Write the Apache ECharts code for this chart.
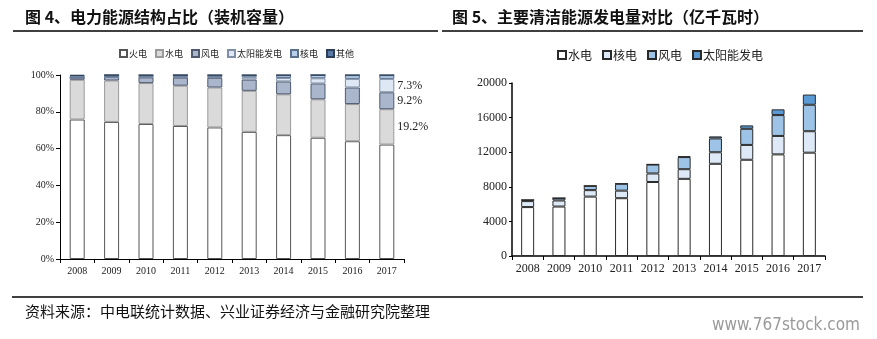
<!DOCTYPE html>
<html><head><meta charset="utf-8">
<script src="https://cdn.jsdelivr.net/npm/echarts@6/dist/echarts.min.js"></script>
<style>
html,body{margin:0;padding:0;background:#fff;}
#wrap{position:relative;width:877px;height:339px;}
#a{position:absolute;left:0;top:0;width:877px;height:339px;}
#b{position:absolute;left:440px;top:0;width:437px;height:339px;}
</style></head>
<body><div id="wrap"><div id="a"></div><div id="b"></div></div>
<script>
// ---- Figure 4: installed capacity share (%) ----
const years = ['2008','2009','2010','2011','2012','2013','2014','2015','2016','2017'];
const capThermal = [75.8, 74.5, 73.4, 72.3, 71.5, 69.1, 67.3, 65.9, 64.0, 62.2];
const capHydro   = [21.6, 22.5, 22.2, 21.9, 21.7, 22.3, 22.2, 20.9, 20.2, 19.2];
const capWind    = [1.1, 2.0, 3.1, 4.4, 5.3, 6.1, 7.0, 8.6, 9.0, 9.2];
const capSolar   = [0.0, 0.0, 0.1, 0.2, 0.3, 1.2, 1.9, 2.8, 4.7, 7.3];
const capNuclear = [1.1, 1.0, 1.1, 1.2, 1.1, 1.2, 1.5, 1.8, 2.0, 2.0];
const capOther   = [0.4, 0.0, 0.1, 0.0, 0.1, 0.1, 0.1, 0.0, 0.1, 0.1];
const pctTicks = [0, 20, 40, 60, 80, 100];

// ---- Figure 5: clean energy generation (100 million kWh) ----
const genHydro   = [5655, 5717, 6867, 6681, 8556, 8921, 10661, 11127, 11748, 11945];
const genNuclear = [692, 701, 747, 874, 983, 1115, 1332, 1714, 2132, 2481];
const genWind    = [131, 276, 494, 800, 1030, 1401, 1598, 1863, 2410, 3057];
const genSolar   = [0, 0, 1, 6, 36, 84, 235, 395, 665, 1182];
const genTicks = [0, 4000, 8000, 12000, 16000, 20000];

const serif = '"Times New Roman","Liberation Serif",serif';
const cjk = '"Noto Sans CJK SC",sans-serif';

function withLastLabel(arr){
  return arr.map((v,i)=> i===arr.length-1 ? {value:v, label:{show:true}} : v);
}
function capSeries(name, data, color, border, labelled){
  return {
    name, type:'bar', stack:'cap', data: labelled ? withLastLabel(data) : data,
    barWidth:15,
    itemStyle:{color, borderColor:border, borderWidth:1},
    label:{show:false, position:'right', distance:3, formatter:'{c}%', color:'#222', fontFamily:serif, fontSize:12},
    emphasis:{disabled:true}
  };
}

const chartA = echarts.init(document.getElementById('a'), null, {renderer:'canvas'});
chartA.setOption({
  animation:false,
  backgroundColor:'#fff',
  title:[
    {text:'图 4、电力能源结构占比（装机容量）', left:20, top:4, textStyle:{fontFamily:cjk, fontWeight:'bold', fontSize:16, color:'#111'}},
    {text:'图 5、主要清洁能源发电量对比（亿千瓦时）', left:447, top:4, textStyle:{fontFamily:cjk, fontWeight:'bold', fontSize:16, color:'#111'}},
    {text:'资料来源：中电联统计数据、兴业证券经济与金融研究院整理', left:20, top:299, textStyle:{fontFamily:cjk, fontWeight:'normal', fontSize:15, color:'#111'}},
    {text:'www.767stock.com', right:12, top:312, textStyle:{fontFamily:'"Liberation Sans Narrow","DejaVu Sans Condensed",sans-serif', fontWeight:'normal', fontSize:17, color:'#9a9a9a'}}
  ],
  graphic:[
    {type:'line', shape:{x1:13, y1:31, x2:438, y2:31}, style:{stroke:'#000', lineWidth:1.5}},
    {type:'line', shape:{x1:442, y1:31, x2:863, y2:31}, style:{stroke:'#000', lineWidth:1.5}},
    {type:'line', shape:{x1:12, y1:297, x2:863, y2:297}, style:{stroke:'#000', lineWidth:1.5}}
  ],
  legend:{
    left:114, top:44, itemWidth:7, itemHeight:7, itemGap:8, icon:'rect',
    textStyle:{fontFamily:cjk, fontSize:9, color:'#222', padding:[0,0,0,-3]},
    data:['火电','水电','风电','太阳能发电','核电','其他']
  },
  grid:{left:60, right:473, top:75, bottom:80},
  xAxis:{
    type:'category', data:years,
    axisLine:{lineStyle:{color:'#000', width:1}},
    axisTick:{show:true, length:4, lineStyle:{color:'#000'}},
    axisLabel:{fontFamily:serif, fontSize:10, color:'#222', margin:7}
  },
  yAxis:{
    type:'value', min:pctTicks[0], max:pctTicks[pctTicks.length-1], interval:20,
    axisLine:{show:true, lineStyle:{color:'#000', width:1}},
    axisTick:{show:true, length:4, lineStyle:{color:'#000'}},
    splitLine:{show:false},
    axisLabel:{fontFamily:serif, fontSize:10, color:'#222', formatter:'{value}%', margin:6}
  },
  series:[
    capSeries('火电', capThermal, '#ffffff', '#555', false),
    capSeries('水电', capHydro, '#dadada', '#9a9a9a', true),
    capSeries('风电', capWind, '#a9b6cc', '#4f5a6e', true),
    capSeries('太阳能发电', capSolar, '#dde8f4', '#7f8fa6', true),
    capSeries('核电', capNuclear, '#b8cfe9', '#5a6f8c', false),
    capSeries('其他', capOther, '#5a7aa6', '#2d3e58', false)
  ]
});

function genSeries(name, data, color){
  return {
    name, type:'bar', stack:'gen', data, barWidth:13,
    itemStyle:{color, borderColor:'#2a2a2a', borderWidth:1},
    emphasis:{disabled:true}
  };
}
const chartB = echarts.init(document.getElementById('b'), null, {renderer:'canvas'});
chartB.setOption({
  animation:false,
  backgroundColor:'transparent',
  legend:{
    left:112, top:44, itemWidth:8, itemHeight:8, itemGap:10, icon:'rect',
    textStyle:{fontFamily:cjk, fontSize:12, color:'#222', padding:[0,0,0,-3]},
    data:['水电','核电','风电','太阳能发电']
  },
  grid:{left:72, right:52, top:83, bottom:83},
  xAxis:{
    type:'category', data:years,
    axisLine:{lineStyle:{color:'#000', width:1.5}},
    axisTick:{show:true, length:4, lineStyle:{color:'#000'}},
    axisLabel:{fontFamily:serif, fontSize:12, color:'#222', margin:7}
  },
  yAxis:{
    type:'value', min:genTicks[0], max:genTicks[genTicks.length-1], interval:4000,
    axisLine:{show:true, lineStyle:{color:'#000', width:1.5}},
    axisTick:{show:true, length:3, lineStyle:{color:'#000'}},
    splitLine:{show:false},
    axisLabel:{fontFamily:serif, fontSize:12, color:'#222', margin:5, formatter:(v)=>String(v)}
  },
  series:[
    genSeries('水电', genHydro, '#ffffff'),
    genSeries('核电', genNuclear, '#dde9f6'),
    genSeries('风电', genWind, '#9dc3e6'),
    genSeries('太阳能发电', genSolar, '#5b9bd5')
  ]
});
</script>
</body></html>
